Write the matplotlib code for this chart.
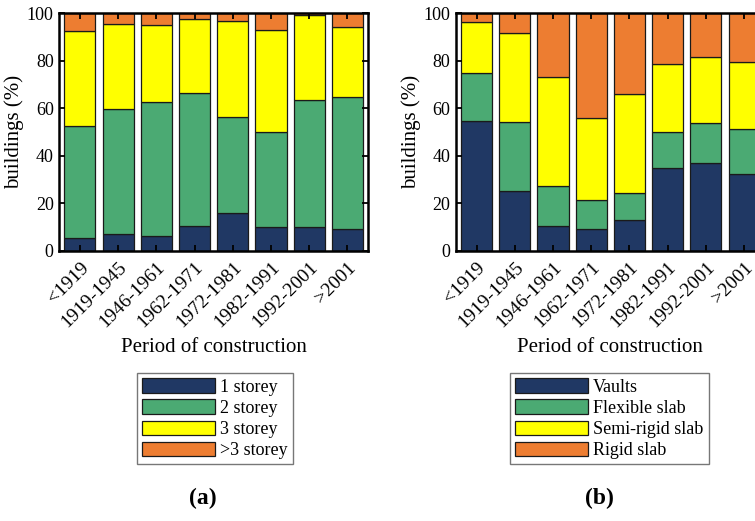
import numpy as np
import matplotlib
matplotlib.use("Agg")
import matplotlib.pyplot as plt

plt.rcParams['font.family'] = ['Liberation Serif', 'DejaVu Serif']

periods = ["<1919", "1919-1945", "1946-1961", "1962-1971",
           "1972-1981", "1982-1991", "1992-2001", ">2001"]

# (a) number of storeys, % of buildings per period
storey_1 = [5.5, 6.9, 6.3, 10.4, 15.7, 10.0, 10.0, 9.3]
storey_2 = [47.2, 52.8, 56.5, 56.0, 40.8, 39.9, 53.3, 55.3]
storey_3 = [39.7, 35.8, 32.1, 31.1, 40.1, 43.2, 36.0, 29.8]
storey_4 = [7.6, 4.5, 5.1, 2.5, 3.4, 6.9, 0.7, 5.6]

# (b) horizontal structure type, % of buildings per period
vaults = [54.8, 25.1, 10.3, 9.0, 12.8, 34.8, 37.1, 32.4]
flexible = [20.2, 29.3, 16.8, 12.3, 11.6, 15.2, 16.8, 18.7]
semi_rigid = [21.2, 37.2, 45.9, 34.6, 41.6, 28.7, 27.7, 28.3]
rigid = [3.8, 8.4, 27.0, 44.1, 34.0, 21.3, 18.4, 20.6]

labels_a = ["1 storey", "2 storey", "3 storey", ">3 storey"]
labels_b = ["Vaults", "Flexible slab", "Semi-rigid slab", "Rigid slab"]
colors = ["#203864", "#4BAA73", "#FFFF00", "#ED7D31"]

W, H = 755, 521
fig = plt.figure(figsize=(W / 100, H / 100), dpi=100)


def stacked(ax, series, labels):
    x = np.arange(len(periods))
    bottom = np.zeros(len(periods))
    handles = []
    for vals, lab, col in zip(series, labels, colors):
        h = ax.bar(x, vals, width=0.815, bottom=bottom, color=col,
                   edgecolor="#1a1a1a", linewidth=0.9, label=lab)
        bottom += np.array(vals)
        handles.append(h)
    ax.set_xlim(-0.54, 7.54)
    ax.set_ylim(0, 100)
    ax.set_yticks([0, 20, 40, 60, 80, 100])
    ax.set_xticks(x)
    ax.set_xticklabels(periods, rotation=45, ha="right", rotation_mode="anchor",
                       fontsize=14)
    ax.tick_params(axis="y", labelsize=13, pad=4)
    ax.tick_params(axis="x", pad=6)
    ax.tick_params(direction="in", top=True, right=True, length=4, width=1.3)
    for s in ax.spines.values():
        s.set_linewidth(1.8)
    ax.set_ylabel("buildings (%)", fontsize=15, labelpad=2)
    ax.set_xlabel("Period of construction", fontsize=15, labelpad=5)
    return handles


ax_a = fig.add_axes([59.3 / W, 1 - 250.7 / H, 308.7 / W, 237.4 / H])
ax_b = fig.add_axes([456 / W, 1 - 250.7 / H, 308.7 / W, 237.4 / H])

ha = stacked(ax_a, [storey_1, storey_2, storey_3, storey_4], labels_a)
hb = stacked(ax_b, [vaults, flexible, semi_rigid, rigid], labels_b)

for ax, hs, labs, x0 in [(ax_a, ha, labels_a, 137), (ax_b, hb, labels_b, 510)]:
    leg = fig.legend(hs, labs, loc="upper left",
                     bbox_to_anchor=(x0 / W, 1 - 373 / H),
                     fontsize=13, frameon=True, fancybox=False,
                     edgecolor="#555555", handlelength=4.0, handleheight=0.85,
                     labelspacing=0.2, borderaxespad=0, borderpad=0.3,
                     handletextpad=0.3)
    leg.get_frame().set_linewidth(1.0)

fig.text(203 / W, 1 - 498 / H, "(a)", fontsize=17, fontweight="bold",
         ha="center", va="center")
fig.text(599 / W, 1 - 498 / H, "(b)", fontsize=17, fontweight="bold",
         ha="center", va="center")

fig.savefig("out.png", dpi=100)
